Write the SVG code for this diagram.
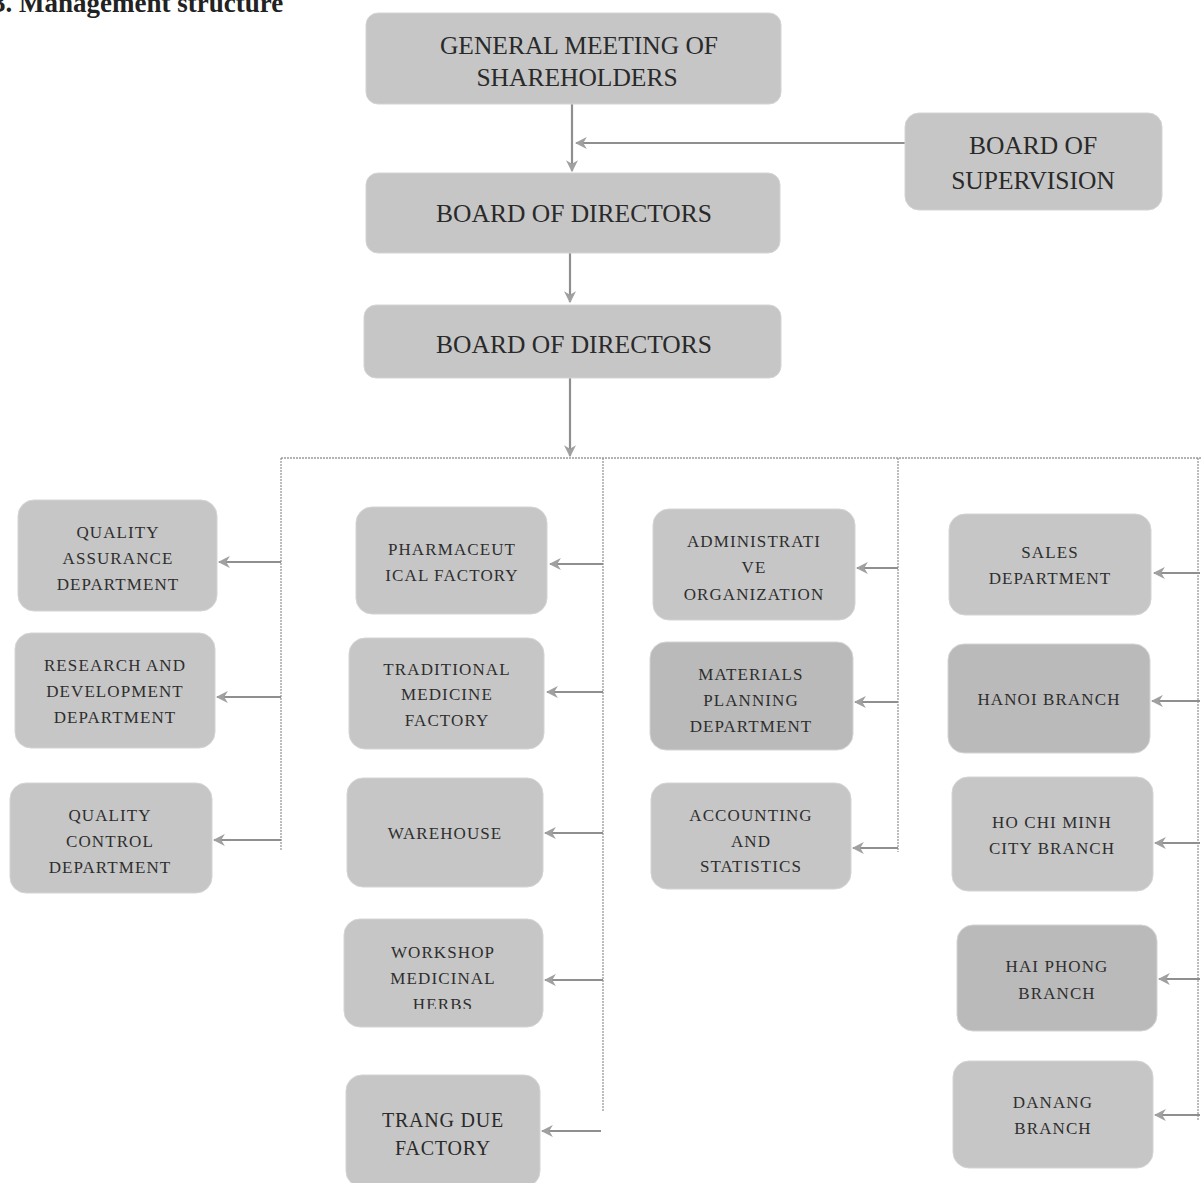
<svg xmlns="http://www.w3.org/2000/svg" width="1202" height="1183" viewBox="0 0 1202 1183">
<style>
.box{fill:#c6c6c6;stroke:#d4d4d4;stroke-width:1}
.dark{fill:#bababa}
.big{font-family:"Liberation Serif","Times New Roman",serif;font-size:25.5px;fill:#2a2a2a;text-anchor:middle}
.sm{font-family:"Liberation Serif","Times New Roman",serif;font-size:17px;letter-spacing:1.1px;fill:#2e2e2e;text-anchor:middle}
.md{font-family:"Liberation Serif","Times New Roman",serif;font-size:20px;letter-spacing:0.8px;fill:#2a2a2a;text-anchor:middle}
.ar{stroke:#8f8f8f;stroke-width:2.2;fill:none;marker-end:url(#ah)}
.bus{stroke:#9a9a9a;stroke-width:1.3;fill:none;stroke-dasharray:2 1}
</style>
<defs>
<marker id="ah" viewBox="0 0 10 10" refX="9" refY="5" markerWidth="5.5" markerHeight="5.5" orient="auto" markerUnits="strokeWidth">
<path d="M0,0 L10,5 L0,10 L3,5 Z" fill="#a0a0a0"/>
</marker>
<clipPath id="wsclip"><rect x="344" y="919" width="200" height="90"/></clipPath>
</defs>
<rect width="1202" height="1183" fill="#fff"/>
<text x="-8" y="12" font-family="Liberation Serif,serif" font-size="27" font-weight="bold" fill="#222">3. Management structure</text>

<g id="connectors">
<path class="ar" d="M572,104 V171"/>
<path class="ar" d="M905,143 H576"/>
<path class="ar" d="M570,253 V302"/>
<path class="ar" d="M570,378 V456"/>
<path class="bus" d="M281,458 H1202"/>
<path class="bus" d="M281,458 V850"/>
<path class="bus" d="M603,458 V1112"/>
<path class="bus" d="M898,458 V852"/>
<path class="bus" d="M1198,458 V1120"/>
<path class="ar" d="M281,562 H219"/>
<path class="ar" d="M281,697 H217"/>
<path class="ar" d="M281,840 H214"/>
<path class="ar" d="M603,564 H550"/>
<path class="ar" d="M603,692 H547"/>
<path class="ar" d="M603,833 H545"/>
<path class="ar" d="M603,980 H545"/>
<path class="ar" d="M601,1131 H542"/>
<path class="ar" d="M898,568 H857"/>
<path class="ar" d="M898,702 H855"/>
<path class="ar" d="M898,848 H853"/>
<path class="ar" d="M1200,573 H1154"/>
<path class="ar" d="M1200,701 H1152"/>
<path class="ar" d="M1200,843 H1155"/>
<path class="ar" d="M1200,979 H1159"/>
<path class="ar" d="M1200,1115 H1155"/>
</g>

<g id="n-gms"><rect class="box" x="366" y="13" width="415" height="91" rx="12"/>
<text class="big" x="579" y="54">GENERAL MEETING OF</text><text class="big" x="577" y="86">SHAREHOLDERS</text></g>
<g id="n-bod1"><rect class="box" x="366" y="173" width="414" height="80" rx="12"/>
<text class="big" x="574" y="222">BOARD OF DIRECTORS</text></g>
<g id="n-bod2"><rect class="box" x="364" y="305" width="417" height="73" rx="12"/>
<text class="big" x="574" y="353">BOARD OF DIRECTORS</text></g>
<g id="n-sup"><rect class="box" x="905" y="113" width="257" height="97" rx="14"/>
<text class="big" x="1033" y="154">BOARD OF</text><text class="big" x="1033" y="189">SUPERVISION</text></g>

<g id="n-qa"><rect class="box" x="18" y="500" width="199" height="111" rx="16"/>
<text class="sm" x="118" y="538">QUALITY</text><text class="sm" x="118" y="564">ASSURANCE</text><text class="sm" x="118" y="590">DEPARTMENT</text></g>
<g id="n-rd"><rect class="box" x="15" y="633" width="200" height="115" rx="16"/>
<text class="sm" x="115" y="671">RESEARCH AND</text><text class="sm" x="115" y="697">DEVELOPMENT</text><text class="sm" x="115" y="723">DEPARTMENT</text></g>
<g id="n-qc"><rect class="box" x="10" y="783" width="202" height="110" rx="16"/>
<text class="sm" x="110" y="821">QUALITY</text><text class="sm" x="110" y="847">CONTROL</text><text class="sm" x="110" y="873">DEPARTMENT</text></g>

<g id="n-pharma"><rect class="box" x="356" y="507" width="191" height="107" rx="16"/>
<text class="sm" x="452" y="555">PHARMACEUT</text><text class="sm" x="452" y="581">ICAL FACTORY</text></g>
<g id="n-trad"><rect class="box" x="349" y="638" width="195" height="111" rx="16"/>
<text class="sm" x="447" y="675">TRADITIONAL</text><text class="sm" x="447" y="700">MEDICINE</text><text class="sm" x="447" y="726">FACTORY</text></g>
<g id="n-wh"><rect class="box" x="347" y="778" width="196" height="109" rx="16"/>
<text class="sm" x="445" y="839">WAREHOUSE</text></g>
<g id="n-ws"><rect class="box" x="344" y="919" width="199" height="108" rx="16"/>
<g clip-path="url(#wsclip)"><text class="sm" x="443" y="958">WORKSHOP</text><text class="sm" x="443" y="984">MEDICINAL</text><text class="sm" x="443" y="1010">HERBS</text></g></g>
<g id="n-td"><rect class="box" x="346" y="1075" width="194" height="112" rx="16"/>
<text class="md" x="443" y="1127">TRANG DUE</text><text class="md" x="443" y="1155">FACTORY</text></g>

<g id="n-admin"><rect class="box" x="653" y="509" width="202" height="111" rx="16"/>
<text class="sm" x="754" y="547">ADMINISTRATI</text><text class="sm" x="754" y="573">VE</text><text class="sm" x="754" y="600">ORGANIZATION</text></g>
<g id="n-mat"><rect class="box dark" x="650" y="642" width="203" height="108" rx="16"/>
<text class="sm" x="751" y="680">MATERIALS</text><text class="sm" x="751" y="706">PLANNING</text><text class="sm" x="751" y="732">DEPARTMENT</text></g>
<g id="n-acc"><rect class="box" x="651" y="783" width="200" height="106" rx="16"/>
<text class="sm" x="751" y="821">ACCOUNTING</text><text class="sm" x="751" y="847">AND</text><text class="sm" x="751" y="872">STATISTICS</text></g>

<g id="n-sales"><rect class="box" x="949" y="514" width="202" height="101" rx="16"/>
<text class="sm" x="1050" y="558">SALES</text><text class="sm" x="1050" y="584">DEPARTMENT</text></g>
<g id="n-hanoi"><rect class="box dark" x="948" y="644" width="202" height="109" rx="16"/>
<text class="sm" x="1049" y="705">HANOI BRANCH</text></g>
<g id="n-hcm"><rect class="box" x="952" y="777" width="201" height="114" rx="16"/>
<text class="sm" x="1052" y="828">HO CHI MINH</text><text class="sm" x="1052" y="854">CITY BRANCH</text></g>
<g id="n-hp"><rect class="box dark" x="957" y="925" width="200" height="106" rx="16"/>
<text class="sm" x="1057" y="972">HAI PHONG</text><text class="sm" x="1057" y="999">BRANCH</text></g>
<g id="n-dn"><rect class="box" x="953" y="1061" width="200" height="107" rx="16"/>
<text class="sm" x="1053" y="1108">DANANG</text><text class="sm" x="1053" y="1134">BRANCH</text></g>
</svg>
